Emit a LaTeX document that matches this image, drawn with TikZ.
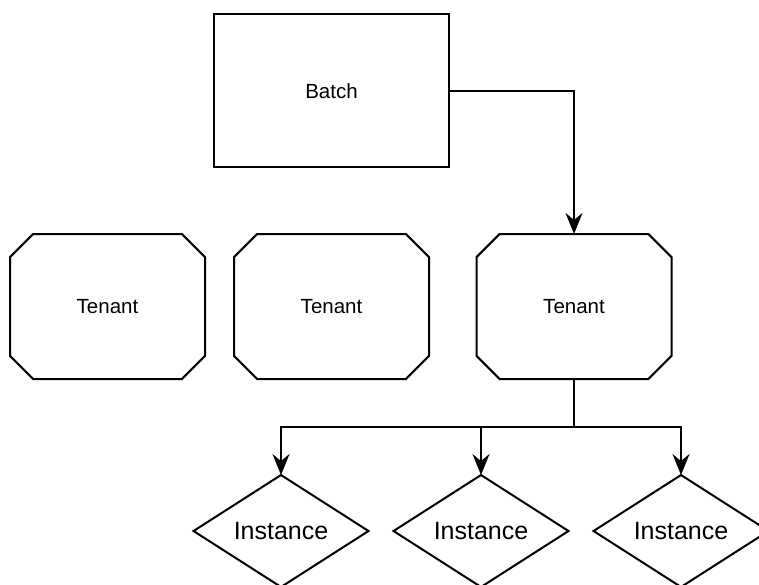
\documentclass[tikz,border=0pt]{standalone}
\usepackage{fontspec}
\setmainfont{Liberation Sans}
\usetikzlibrary{shapes.misc,shapes.geometric,arrows.meta}

\tikzset{
  box/.style={draw, line width=2pt, rectangle, minimum width=235pt, minimum height=153pt,
              inner sep=0pt, outer sep=0pt, font=\fontsize{20.5}{23}\selectfont},
  tenantbox/.style={draw, line width=2pt, chamfered rectangle, chamfered rectangle xsep=17pt,
              chamfered rectangle ysep=16pt, minimum width=195pt, minimum height=145pt,
              inner sep=0pt, outer sep=0pt, font=\fontsize{20.5}{23}\selectfont},
  instancebox/.style={draw, line width=2pt, diamond, minimum width=175pt, minimum height=106pt,
              inner sep=0pt, outer sep=0pt, font=\fontsize{25}{28}\selectfont},
  link/.style={line width=2pt, -{Stealth[length=21pt, width=17pt, inset=7pt]}},
  plainlink/.style={line width=2pt}
}

\begin{document}
\begin{tikzpicture}[x=1pt, y=-1pt]
  \useasboundingbox (0,0) rectangle (759,585);

  % top level
  \node[box] (batch) at (331.5,91) {Batch};

  % tenants
  \node[tenantbox] (t1) at (107.5,306.5) {Tenant};
  \node[tenantbox] (t2) at (331.5,306.5) {Tenant};
  \node[tenantbox] (t3) at (574,306.5) {Tenant};

  % instances
  \node[instancebox] (i1) at (281,531) {Instance};
  \node[instancebox] (i2) at (481,531) {Instance};
  \node[instancebox] (i3) at (681,531) {Instance};

  % connectors
  \draw[link] (batch.east) -| (t3.north);

  \coordinate (split) at (574,427);
  \draw[plainlink] (t3.south) -- (split);
  \draw[link] (split) -| (i1.north);
  \draw[link] (split) -| (i2.north);
  \draw[link] (split) -| (i3.north);
\end{tikzpicture}
\end{document}
